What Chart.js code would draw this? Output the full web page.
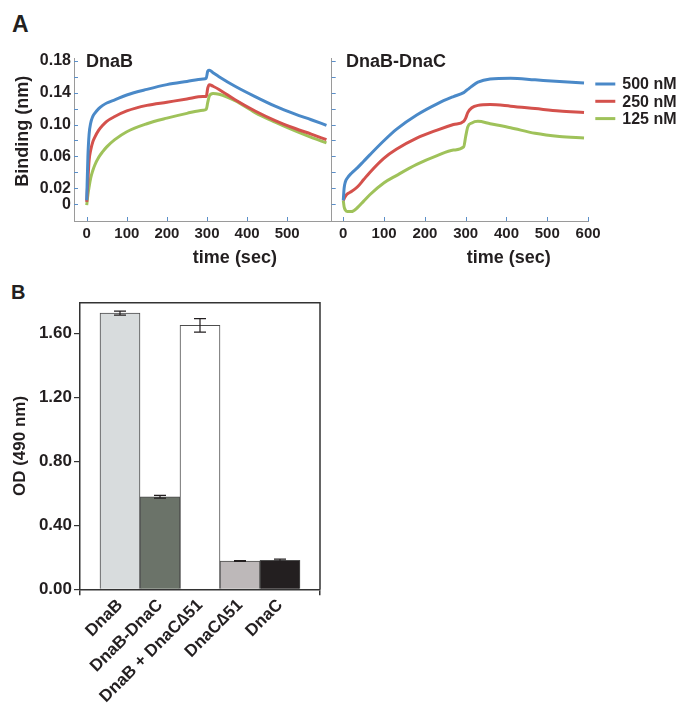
<!DOCTYPE html>
<html>
<head>
<meta charset="utf-8">
<script src="https://cdn.jsdelivr.net/npm/chart.js@4.4.1/dist/chart.umd.min.js"></script>
<style>
  html, body { margin: 0; padding: 0; background: #ffffff; }
  #wrap { position: relative; width: 678px; height: 706px; overflow: hidden; background: #fff; }
  canvas { position: absolute; }
  .plabel { position: absolute; font-family: "Liberation Sans", Arial, sans-serif; font-weight: bold; color: #231f20; line-height: 1; }
</style>
</head>
<body>
<div id="wrap">
  <div class="plabel" style="left:12px; top:13px; font-size:23px;">A</div>
  <div class="plabel" style="left:11px; top:282px; font-size:20px;">B</div>
  <canvas id="cA1" width="340" height="240" style="left:0px; top:40px;"></canvas>
  <canvas id="cA2" width="378" height="240" style="left:300px; top:40px;"></canvas>
  <canvas id="cB" width="340" height="426" style="left:0px; top:280px;"></canvas>
</div>
<script>
// ---------------- DATA ----------------
// Panel A (left): DnaB binding, time in seconds, binding in nm
const timeDnaB = [0, 3, 6, 10, 15, 20, 30, 40, 50, 70, 100, 150, 200, 250, 290, 298, 302, 306, 315, 330, 370, 420, 470, 520, 560, 598];
const dnaB500 = [0.005, 0.060, 0.088, 0.102, 0.110, 0.114, 0.120, 0.124, 0.127, 0.131, 0.137, 0.144, 0.150, 0.154, 0.157, 0.158, 0.167, 0.168, 0.165, 0.160, 0.148, 0.135, 0.123, 0.113, 0.106, 0.099];
const dnaB250 = [0.003, 0.030, 0.055, 0.068, 0.078, 0.084, 0.093, 0.099, 0.104, 0.110, 0.117, 0.124, 0.128, 0.132, 0.135, 0.135, 0.146, 0.150, 0.148, 0.144, 0.131, 0.117, 0.105, 0.095, 0.088, 0.081];
const dnaB125 = [-0.001, 0.012, 0.022, 0.033, 0.042, 0.049, 0.059, 0.066, 0.072, 0.081, 0.091, 0.101, 0.108, 0.114, 0.118, 0.119, 0.128, 0.136, 0.139, 0.138, 0.130, 0.115, 0.103, 0.092, 0.084, 0.077];

// Panel A (right): DnaB-DnaC binding
const timeDnaBDnaC = [0, 2, 5, 10, 20, 35, 50, 65, 100, 130, 180, 230, 270, 295, 300, 305, 315, 330, 360, 410, 470, 530, 590];
const dnaBC500 = [0.005, 0.020, 0.028, 0.033, 0.039, 0.046, 0.054, 0.062, 0.080, 0.094, 0.112, 0.126, 0.135, 0.140, 0.142, 0.144, 0.148, 0.153, 0.157, 0.158, 0.156, 0.154, 0.152];
const dnaBC250 = [0.005, 0.007, 0.010, 0.013, 0.016, 0.022, 0.031, 0.040, 0.058, 0.069, 0.083, 0.093, 0.100, 0.104, 0.108, 0.115, 0.121, 0.124, 0.125, 0.123, 0.120, 0.117, 0.115];
const dnaBC125 = [0.005, -0.003, -0.007, -0.009, -0.009, -0.004, 0.004, 0.012, 0.027, 0.036, 0.050, 0.061, 0.068, 0.072, 0.085, 0.097, 0.102, 0.104, 0.101, 0.096, 0.089, 0.085, 0.083];

const seriesLabels = ['500 nM', '250 nM', '125 nM'];
const seriesColors = ['#4a89c8', '#d4514c', '#9fc25a'];

const yTickValuesA = [0, 0.02, 0.04, 0.06, 0.08, 0.10, 0.12, 0.14, 0.16, 0.18];
const yTickLabelsA = ['0', '0.02', '', '0.06', '', '0.10', '', '0.14', '', '0.18'];
const xTicksLeft = [0, 100, 200, 300, 400, 500];
const xTicksRight = [0, 100, 200, 300, 400, 500, 600];

// Panel B: OD (490 nm)
const odCategories = ['DnaB', 'DnaB-DnaC', 'DnaB + DnaC\u220651', 'DnaC\u220651', 'DnaC'];
const odValues = [1.725, 0.578, 1.648, 0.177, 0.181];
const odErrors = [0.012, 0.008, 0.042, 0.003, 0.007];
const barColors = ['#d8dcdd', '#6b7369', '#ffffff', '#bdb8b9', '#231f20'];
const odTickValues = [0, 0.4, 0.8, 1.2, 1.6];
const odTickLabels = ['0.00', '0.40', '0.80', '1.20', '1.60'];

// ---------------- STYLE ----------------
const FONT = '"Liberation Sans", Arial, Helvetica, sans-serif';
const INK = '#231f20';
Chart.defaults.font.family = FONT;
Chart.defaults.color = INK;

// inward tick marks for panel A
const inwardTicks = {
  id: 'inwardTicks',
  afterDraw(chart, args, o) {
    const {ctx, chartArea: a} = chart;
    ctx.save();
    ctx.strokeStyle = o.color || '#5b8fc9';
    ctx.lineWidth = 1;
    const ys = chart.scales.y, xs = chart.scales.x;
    ys.ticks.forEach(t => {
      const p = Math.round(ys.getPixelForValue(t.value)) + 0.5;
      ctx.beginPath(); ctx.moveTo(a.left, p); ctx.lineTo(a.left + 4, p); ctx.stroke();
    });
    xs.ticks.forEach(t => {
      const p = Math.round(xs.getPixelForValue(t.value)) + 0.5;
      ctx.beginPath(); ctx.moveTo(p, a.bottom); ctx.lineTo(p, a.bottom - 4); ctx.stroke();
    });
    ctx.restore();
  }
};

// panel name, axis titles and legend for panel A
const panelText = {
  id: 'panelText',
  afterDraw(chart, args, o) {
    const {ctx, chartArea: a} = chart;
    ctx.save();
    ctx.fillStyle = INK;
    ctx.textBaseline = 'middle';
    if (o.name) {
      ctx.font = 'bold 18px ' + FONT;
      ctx.textAlign = 'left';
      ctx.fillText(o.name, a.left + o.nameDx, a.top + o.nameDy);
    }
    if (o.xTitle) {
      ctx.font = 'bold 18px ' + FONT;
      ctx.textAlign = 'center';
      ctx.fillText(o.xTitle, a.left + o.xTitleFrac * (a.right - a.left), a.bottom + o.xTitleDy);
    }
    if (o.yTitle) {
      ctx.font = 'bold 18px ' + FONT;
      ctx.textAlign = 'center';
      ctx.translate(o.yTitleX, a.top + o.yTitleDy);
      ctx.rotate(-Math.PI / 2);
      ctx.fillText(o.yTitle, 0, 0);
      ctx.setTransform(1, 0, 0, 1, 0, 0);
    }
    if (o.legend) {
      ctx.font = 'bold 16px ' + FONT;
      ctx.textAlign = 'left';
      chart.data.datasets.forEach((ds, i) => {
        const y = a.top + 25.7 + i * 17.3;
        ctx.strokeStyle = ds.borderColor;
        ctx.lineWidth = 3;
        ctx.beginPath(); ctx.moveTo(a.right + 7, y); ctx.lineTo(a.right + 27, y); ctx.stroke();
        ctx.fillStyle = INK;
        ctx.fillText(ds.label, a.right + 34, y + 1);
      });
    }
    ctx.restore();
  }
};

function lineDatasets(times, arrs) {
  return arrs.map((arr, i) => ({
    label: seriesLabels[i],
    data: times.map((t, k) => ({x: t, y: arr[k]})),
    borderColor: seriesColors[i],
    backgroundColor: seriesColors[i],
    borderWidth: 3,
    pointRadius: 0,
    cubicInterpolationMode: 'monotone',
    fill: false
  }));
}

function panelAOptions(cfg) {
  return {
    responsive: false,
    animation: false,
    layout: {padding: {left: 0, right: cfg.padRight, top: 18.3, bottom: 0}},
    plugins: {
      legend: {display: false},
      tooltip: {enabled: false},
      inwardTicks: {color: '#5b8fc9'},
      panelText: cfg.text
    },
    scales: {
      x: {
        type: 'linear',
        min: cfg.xMin, max: cfg.xMax,
        afterBuildTicks: s => { s.ticks = cfg.xTicks.map(v => ({value: v})); },
        afterFit: s => { s.height = 59; },
        ticks: {autoSkip: false, maxRotation: 0, padding: 4, color: INK, font: {size: 15, weight: 'bold'}},
        grid: {drawOnChartArea: false, drawTicks: false},
        border: {display: true, color: '#9a9a9a', width: 1}
      },
      y: {
        type: 'linear',
        min: -0.0209, max: 0.183,
        afterBuildTicks: s => { s.ticks = yTickValuesA.map(v => ({value: v})); },
        afterFit: s => { s.width = cfg.yWidth; },
        ticks: {display: cfg.yLabels, autoSkip: false, padding: 3, color: INK, font: {size: 16, weight: 'bold'},
                callback: (v, i) => yTickLabelsA[i]},
        grid: {drawOnChartArea: false, drawTicks: false},
        border: {display: true, color: '#9a9a9a', width: 1}
      }
    }
  };
}

// ---------------- PANEL A LEFT ----------------
new Chart(document.getElementById('cA1'), {
  type: 'line',
  data: {datasets: lineDatasets(timeDnaB, [dnaB500, dnaB250, dnaB125])},
  options: panelAOptions({
    padRight: 9, yWidth: 74, yLabels: true,
    xMin: -31.7, xMax: 609.3, xTicks: xTicksLeft,
    text: {name: 'DnaB', nameDx: 12, nameDy: 3.6,
           xTitle: 'time (sec)', xTitleFrac: 0.626, xTitleDy: 37,
           yTitle: 'Binding (nm)', yTitleX: 23, yTitleDy: 73}
  }),
  plugins: [inwardTicks, panelText]
});

// ---------------- PANEL A RIGHT ----------------
new Chart(document.getElementById('cA2'), {
  type: 'line',
  data: {datasets: lineDatasets(timeDnaBDnaC, [dnaBC500, dnaBC250, dnaBC125])},
  options: panelAOptions({
    padRight: 89.7, yWidth: 31.7, yLabels: false,
    xMin: -28.4, xMax: 600.5, xTicks: xTicksRight,
    text: {name: 'DnaB-DnaC', nameDx: 14.3, nameDy: 3.6,
           xTitle: 'time (sec)', xTitleFrac: 0.69, xTitleDy: 37,
           legend: true}
  }),
  plugins: [inwardTicks, panelText]
});

// ---------------- PANEL B ----------------
const errorBars = {
  id: 'errorBars',
  afterDatasetsDraw(chart) {
    const {ctx} = chart;
    const xs = chart.scales.x, ys = chart.scales.y;
    ctx.save();
    ctx.strokeStyle = '#231f20';
    ctx.lineWidth = 1.2;
    odValues.forEach((v, i) => {
      const x = xs.getPixelForValue(i);
      const yt = ys.getPixelForValue(v + odErrors[i]);
      const yb = ys.getPixelForValue(v - odErrors[i]);
      ctx.beginPath();
      ctx.moveTo(x, yt); ctx.lineTo(x, yb);
      ctx.moveTo(x - 6, yt); ctx.lineTo(x + 6, yt);
      ctx.moveTo(x - 6, yb); ctx.lineTo(x + 6, yb);
      ctx.stroke();
    });
    ctx.restore();
  }
};
const boxFrame = {
  id: 'boxFrame',
  afterDraw(chart) {
    const {ctx, chartArea: a} = chart;
    ctx.save();
    ctx.strokeStyle = '#333333';
    ctx.lineWidth = 1.5;
    ctx.beginPath();
    ctx.moveTo(a.left, a.top); ctx.lineTo(a.right, a.top); ctx.lineTo(a.right, a.bottom);
    ctx.stroke();
    ctx.restore();
  }
};

new Chart(document.getElementById('cB'), {
  type: 'bar',
  data: {
    datasets: [{
      data: odValues.map((v, i) => ({x: i, y: v})),
      backgroundColor: barColors,
      borderColor: '#4d4d4d',
      borderWidth: 1,
      borderSkipped: 'bottom',
      barPercentage: 1,
      categoryPercentage: 1
    }]
  },
  options: {
    responsive: false,
    animation: false,
    layout: {padding: {left: 0, right: 20, top: 22.7, bottom: 0}},
    plugins: {legend: {display: false}, tooltip: {enabled: false}},
    scales: {
      x: {
        type: 'linear',
        min: -1, max: 5,
        offset: false,
        afterBuildTicks: s => { s.ticks = [-1, 0, 1, 2, 3, 4, 5].map(v => ({value: v})); },
        afterFit: s => { s.height = 116.7; },
        ticks: {autoSkip: false, minRotation: 45, maxRotation: 45, padding: 0, color: INK,
                font: {size: 17, weight: 'bold'},
                callback: v => (odCategories[v] !== undefined ? odCategories[v] : '')},
        grid: {offset: false, drawOnChartArea: false, drawTicks: true, tickLength: 6, lineWidth: 1.5,
               tickColor: c => (c.tick && (c.tick.value === -1 || c.tick.value === 5)) ? '#333333' : 'rgba(0,0,0,0)'},
        border: {display: true, color: '#333333', width: 1.5}
      },
      y: {
        type: 'linear',
        min: 0, max: 1.79,
        afterBuildTicks: s => { s.ticks = odTickValues.map(v => ({value: v})); },
        afterFit: s => { s.width = 80; },
        ticks: {autoSkip: false, padding: 2, color: INK, font: {size: 17, weight: 'bold'},
                callback: (v, i) => odTickLabels[i]},
        grid: {drawOnChartArea: false, drawTicks: true, tickLength: 6, tickColor: '#333333', lineWidth: 1.2},
        border: {display: true, color: '#333333', width: 1.5},
        title: {display: true, text: 'OD (490 nm)', color: INK, font: {size: 17, weight: 'bold'}, padding: {top: 10, bottom: 0}}
      }
    }
  },
  plugins: [errorBars, boxFrame]
});
</script>
</body>
</html>
